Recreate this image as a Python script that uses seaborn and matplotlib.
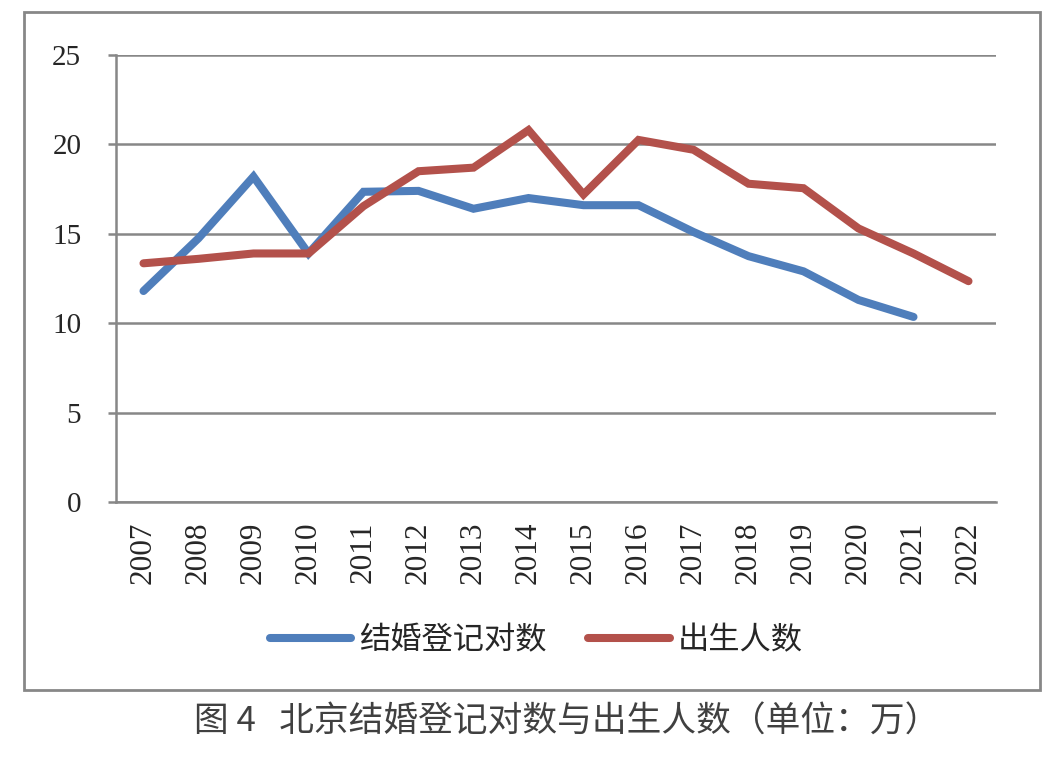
import matplotlib
matplotlib.use("Agg")
import matplotlib.pyplot as plt
import matplotlib.patches as patches
import seaborn as sns
import pandas as pd

years = [str(y) for y in range(2007, 2023)]
marriages = [11.8, 14.75, 18.2, 13.9, 17.35, 17.4, 16.4, 17.0, 16.6, 16.6,
             15.1, 13.75, 12.9, 11.3, 10.35, None]
births = [13.35, 13.6, 13.9, 13.9, 16.55, 18.5, 18.7, 20.8, 17.2, 20.25,
          19.7, 17.8, 17.55, 15.3, 13.9, 12.35]
series_names = ["结婚登记对数", "出生人数"]
y_ticks = [0, 5, 10, 15, 20, 25]
caption = "图 4   北京结婚登记对数与出生人数（单位：万）"

sns.set_style("white")
plt.rcParams['font.family'] = ['Liberation Serif', 'Noto Sans CJK SC', 'DejaVu Sans']

df = pd.DataFrame({"idx": range(len(years)), "year": years,
                   series_names[0]: marriages, series_names[1]: births})
long_df = df.melt(id_vars=["idx", "year"], value_vars=series_names,
                  var_name="series", value_name="value").dropna()

fig = plt.figure(figsize=(10.64, 7.64), dpi=100)
ax = fig.add_axes([116 / 1064, 1 - 502 / 764, 880 / 1064, 447 / 764])

grid_color = "#878787"
sns.lineplot(data=long_df, x="idx", y="value", hue="series", hue_order=series_names,
             palette=["#4F7EBB", "#B3514B"], linewidth=5.8, ax=ax, legend=True,
             solid_capstyle="round", solid_joinstyle="miter")

ax.set_xlim(-0.5, len(years) - 0.5)
ax.set_ylim(0, 25)
ax.set_yticks(y_ticks)
ax.set_yticklabels([str(t) for t in y_ticks], fontsize=21, family='Liberation Serif')
ax.set_xticks(range(len(years)))
ax.set_xticklabels(years, rotation=90, fontsize=22.5, family='Liberation Serif')
ax.set_xticks([i - 0.5 for i in range(len(years) + 1)], minor=True)
ax.tick_params(axis='x', which='major', length=0, pad=14)
ax.tick_params(axis='x', which='minor', length=6, width=1.8, color=grid_color, direction='out')
ax.tick_params(axis='y', which='major', length=6, width=1.8, color=grid_color, pad=19,
               direction='out', left=True)
ax.set_xlabel("")
ax.set_ylabel("")

ax.grid(axis='y', color=grid_color, linewidth=1.8)
ax.set_axisbelow(True)
for side in ["top", "right"]:
    ax.spines[side].set_visible(False)
for side in ["left", "bottom"]:
    ax.spines[side].set_color(grid_color)
    ax.spines[side].set_linewidth(1.8)

handles, labels = ax.get_legend_handles_labels()
ax.get_legend().remove()
leg = fig.legend(handles, labels, loc='center', bbox_to_anchor=(536 / 1064, 1 - 640 / 764),
                 ncol=2, frameon=False, handlelength=2.6, handletextpad=0.25,
                 columnspacing=1.35, prop={'family': ['Noto Sans CJK SC'], 'size': 22.5})
for h in leg.get_lines():
    h.set_linewidth(5.8)
    h.set_solid_capstyle("round")

box = patches.Rectangle((24 / 1064, 1 - 690 / 764), 1016 / 1064, 678 / 764,
                        transform=fig.transFigure, fill=False, edgecolor="#878787",
                        linewidth=2)
fig.patches.append(box)

fig.text(567 / 1064, 1 - 722 / 764, caption, ha='center', va='center', fontsize=25,
         color="#404040", family=['Noto Sans CJK SC', 'DejaVu Sans'])

fig.savefig("out.png", dpi=100)
